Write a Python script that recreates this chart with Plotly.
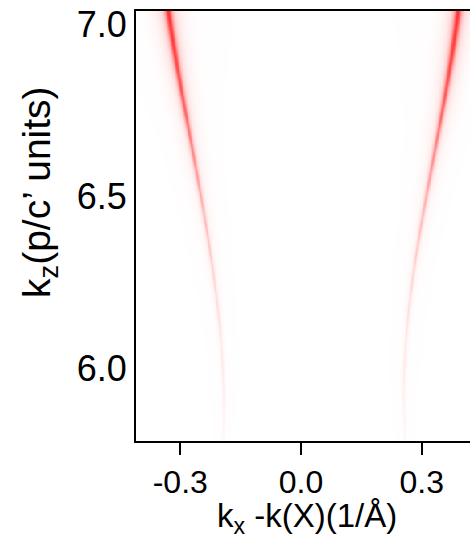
import numpy as np
import plotly.graph_objects as go

# ---- data ----
kz_samples = [5.79, 6.14, 6.314, 6.488, 6.692, 6.808, 6.924, 7.038]
left_kx = [-0.194, -0.206, -0.226, -0.241, -0.280, -0.300, -0.318, -0.328]
right_kx = [0.258, 0.268, 0.283, 0.303, 0.340, 0.365, 0.377, 0.387]
amplitude = [0.03, 0.10, 0.17, 0.28, 0.52, 0.70, 0.88, 1.0]
linewidth_k = [0.003, 0.0032, 0.0035, 0.004, 0.0045, 0.005, 0.0055, 0.006]

x_ticks = [-0.3, 0.0, 0.3]
x_ticktext = ["-0.3", "0.0", "0.3"]
y_ticks = [6.0, 6.5, 7.0]
y_ticktext = ["6.0", "6.5", "7.0"]

# ---- build intensity map from the read curves ----
kx = np.linspace(-0.41, 0.42, 416)
kz = np.linspace(5.788, 7.038, 320)
KX, KZ = np.meshgrid(kx, kz)
A = np.interp(KZ, kz_samples, amplitude)
W = np.interp(KZ, kz_samples, linewidth_k)
z = np.zeros_like(KX)
for centers in (left_kx, right_kx):
    # smooth the read centre line with a low-order fit through the samples
    coef = np.polyfit(kz_samples, centers, 3)
    C = np.polyval(coef, KZ)
    d = KX - C
    z += A * (W**2 / (d**2 + W**2) + 0.05 * np.exp(-(d / 0.035) ** 2))
z = np.round(np.clip(z, 0, 1), 3)

fig = go.Figure()
fig.add_trace(go.Heatmap(
    x=kx, y=kz, z=z, zmin=0, zmax=1, zsmooth="best", showscale=False,
    colorscale=[[0, "rgb(255,255,255)"], [0.05, "rgb(255,242,242)"],
                [0.3, "rgb(255,175,175)"], [0.6, "rgb(255,105,105)"],
                [1, "rgb(255,55,55)"]],
    hoverinfo="skip",
))

font_family = "Liberation Sans, Arial, sans-serif"
fig.update_layout(
    width=470, height=536,
    margin=dict(l=136, r=0, t=11, b=95),
    paper_bgcolor="white", plot_bgcolor="white",
    font=dict(family=font_family, color="black"),
    xaxis=dict(range=[-0.41, 0.42], tickvals=x_ticks, ticktext=x_ticktext,
               ticks="outside", ticklen=12, tickwidth=2, tickcolor="black",
               showline=True, linecolor="black", linewidth=2, mirror=True,
               showgrid=False, zeroline=False, tickfont=dict(size=32)),
    yaxis=dict(range=[5.788, 7.038], tickvals=y_ticks, ticktext=y_ticktext,
               ticks="", showline=True, linecolor="black", linewidth=2,
               mirror=False, showgrid=False, zeroline=False,
               tickfont=dict(size=36)),
    annotations=[
        dict(text="k<sub>x</sub> -k(X)(1/Å)", xref="paper", yref="paper",
             x=(307 - 136) / 334, y=-(518 - 441) / 430, xanchor="center",
             yanchor="middle", showarrow=False, font=dict(size=33)),
        dict(text="k<sub>z</sub>(p/c’ units)", xref="paper", yref="paper",
             x=-(136 - 39) / 334, y=1 - (192 - 11) / 430, xanchor="center",
             yanchor="middle", textangle=-90, showarrow=False,
             font=dict(size=39)),
    ],
)

fig.write_html("out.html")
